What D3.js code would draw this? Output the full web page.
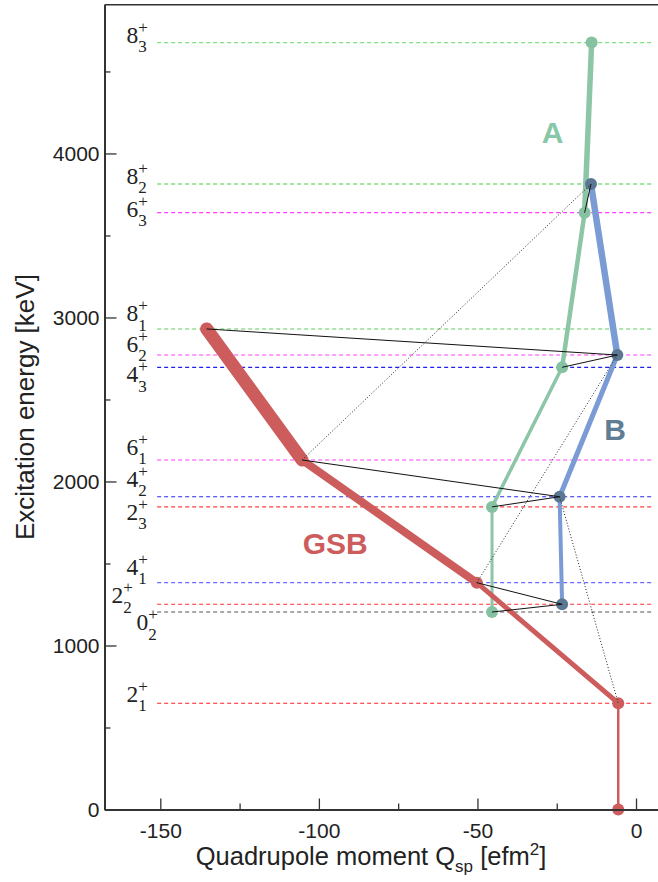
<!DOCTYPE html>
<html><head><meta charset="utf-8">
<script src="https://cdn.jsdelivr.net/npm/d3@7"></script>
<style>body{margin:0;background:#fff} svg{display:block}</style>
</head><body>
<svg id="chart" width="658" height="882"></svg>
<script>
// ---------- data ----------
const levelSpins  = [8, 8, 6, 8, 6, 4, 6, 4, 2, 4, 2, 0, 2];
const levelIdx    = [3, 2, 3, 1, 2, 3, 1, 2, 3, 1, 2, 2, 1];
const levelEnergy = [4676, 3814, 3639, 2930, 2771, 2696, 2131, 1907, 1845, 1383, 1251, 1204, 648];

const gsbEnergy   = [0, 648, 1383, 2131, 2930];
const gsbQ        = [-5.6, -5.6, -50.2, -105.3, -135.4];
const bandAEnergy = [1204, 1845, 2696, 3639, 4676];
const bandAQ      = [-45.4, -45.4, -23.3, -16.2, -14.0];
const bandBEnergy = [1251, 1907, 2771, 3814];
const bandBQ      = [-23.3, -24.1, -5.9, -14.2];

// transitions between states: band letter + index in band
const solidTransitions  = [["g4","b2"],["b2","a2"],["g3","b1"],["b1","a1"],["g2","b0"],["b0","a0"],["b3","a3"]];
const dottedTransitions = [["g3","b3"],["g2","b2"],["b1","g1"]];

const bandNames = ["GSB", "A", "B"];
const xTicks = [-150, -100, -50, 0];
const xMinor = [-125, -75, -25];
const yTicks = [0, 1000, 2000, 3000, 4000];
const yMinor = [500, 1500, 2500, 3500, 4500];

// ---------- styles / layout ----------
const levelColors = ["#7fe07f","#3fcc3f","#ff3cff","#5fcc5f","#ff3cff","#2020ee","#ff3cff","#2a2aee","#ff4040","#6a6aff","#ff3030","#555555","#ff2020"];
const labelDy = [0, 0, 4, -7.5, -3.3, 15, -5, -10, 13, -7.7, -1, 18, -1.6];
const labelX  = [126.5, 126.5, 126.5, 126.5, 126.5, 126.5, 126.5, 126.5, 126.5, 126.5, 111.5, 136.5, 126.5];
const gsbWidths = [2.5, 5, 8, 13];
const aWidths = [3, 3.5, 4.5, 5.5];
const bWidths = [4, 5, 6.5];
const colGSB = "#cd5c5c", colALine = "#8cc6a6", colAPt = "#86c2a2", colBLine = "#7b9bd5", colBPt = "#5b7893";

const svg = d3.select("#chart");
const sans = "'Liberation Sans', Arial, sans-serif";
const serif = "'Liberation Serif', 'Times New Roman', serif";

const x = d3.scaleLinear().domain([-167.6, 7.5]).range([104.5, 659.8]);
const y = d3.scaleLinear().domain([0, 4907]).range([809.5, 4.7]);

// level dashed lines + labels
const lv = svg.append("g");
levelEnergy.forEach((e, i) => {
  lv.append("line")
    .attr("x1", x(-151)).attr("x2", 653)
    .attr("y1", y(e)).attr("y2", y(e))
    .attr("stroke", levelColors[i]).attr("stroke-width", 1.1)
    .attr("stroke-dasharray", "4,3");
});
levelEnergy.forEach((e, i) => {
  const bx = labelX[i], by = y(e) + labelDy[i];
  const t = lv.append("text").attr("x", bx).attr("y", by)
    .attr("font-family", serif).attr("font-size", 23.5).attr("fill", "#222")
    .text(levelSpins[i]);
  const w = t.node().getComputedTextLength();
  lv.append("text").attr("x", bx + w).attr("y", by - 10)
    .attr("font-family", serif).attr("font-size", 17).attr("fill", "#222").text("+");
  lv.append("text").attr("x", bx + w).attr("y", by + 9.5)
    .attr("font-family", serif).attr("font-size", 17).attr("fill", "#222").text(levelIdx[i]);
});

// bands
const bands = {
  g: gsbEnergy.map((e, i) => [gsbQ[i], e]),
  a: bandAEnergy.map((e, i) => [bandAQ[i], e]),
  b: bandBEnergy.map((e, i) => [bandBQ[i], e])
};
function drawBand(pts, widths, col) {
  const g = svg.append("g");
  for (let i = 0; i < pts.length - 1; i++) {
    g.append("line")
      .attr("x1", x(pts[i][0])).attr("y1", y(pts[i][1]))
      .attr("x2", x(pts[i+1][0])).attr("y2", y(pts[i+1][1]))
      .attr("stroke", col).attr("stroke-width", widths[i]).attr("stroke-linecap", "round");
  }
}
drawBand(bands.a, aWidths, colALine);
drawBand(bands.b, bWidths, colBLine);
drawBand(bands.g, gsbWidths, colGSB);

function drawPts(pts, col) {
  svg.append("g").selectAll("circle").data(pts).join("circle")
    .attr("cx", d => x(d[0])).attr("cy", d => y(d[1])).attr("r", 6).attr("fill", col);
}
drawPts(bands.a, colAPt);
drawPts(bands.b, colBPt);
drawPts(bands.g, colGSB);

// transitions
function st(k) { return bands[k[0]][+k.slice(1)]; }
const tr = svg.append("g");
solidTransitions.forEach(([a, b]) => {
  const p = st(a), q = st(b);
  tr.append("line").attr("x1", x(p[0])).attr("y1", y(p[1])).attr("x2", x(q[0])).attr("y2", y(q[1]))
    .attr("stroke", "#111").attr("stroke-width", 1);
});
dottedTransitions.forEach(([a, b]) => {
  const p = st(a), q = st(b);
  tr.append("line").attr("x1", x(p[0])).attr("y1", y(p[1])).attr("x2", x(q[0])).attr("y2", y(q[1]))
    .attr("stroke", "#222").attr("stroke-width", 1).attr("stroke-dasharray", "1,2");
});

// band labels
svg.append("text").attr("x", 302.7).attr("y", 554).attr("font-family", sans).attr("font-weight", "bold")
  .attr("font-size", 30).attr("fill", colGSB).text(bandNames[0]);
svg.append("text").attr("x", 552.5).attr("y", 143).attr("text-anchor", "middle").attr("font-family", sans).attr("font-weight", "bold")
  .attr("font-size", 30).attr("fill", "#88c8a8").text(bandNames[1]);
svg.append("text").attr("x", 615).attr("y", 440).attr("text-anchor", "middle").attr("font-family", sans).attr("font-weight", "bold")
  .attr("font-size", 30).attr("fill", "#5f7d93").text(bandNames[2]);

// axes
const axCol = "#333";
svg.append("g").attr("transform", `translate(${x.range()[0]},0)`)
  .call(d3.axisLeft(y).tickValues(yTicks).tickSizeInner(-12).tickSizeOuter(0).tickPadding(5).tickFormat(d => String(d)));
svg.append("g").attr("transform", `translate(${x.range()[0]},0)`)
  .call(d3.axisLeft(y).tickValues(yMinor).tickSizeInner(-6).tickSizeOuter(0).tickFormat(""));
svg.append("g").attr("transform", `translate(0,${y.range()[0]})`)
  .call(d3.axisBottom(x).tickValues(xTicks).tickSizeInner(-11).tickSizeOuter(0).tickPadding(14).tickFormat(d => String(d)));
svg.append("g").attr("transform", `translate(0,${y.range()[0]})`)
  .call(d3.axisBottom(x).tickValues(xMinor).tickSizeInner(-6).tickSizeOuter(0).tickFormat(""));
svg.selectAll(".domain").attr("stroke", axCol).attr("stroke-width", 2);
svg.selectAll(".tick line").attr("stroke", axCol).attr("stroke-width", 1.3);
svg.selectAll(".tick text").attr("font-family", sans).attr("font-size", 21).attr("fill", "#222");

// top frame line
svg.append("line").attr("x1", x.range()[0]).attr("x2", 658).attr("y1", y.range()[1]).attr("y2", y.range()[1])
  .attr("stroke", axCol).attr("stroke-width", 1.6);

// axis titles
const xt = svg.append("text").attr("x", 371).attr("y", 865)
  .attr("text-anchor", "middle").attr("font-family", sans).attr("font-size", 25.5).attr("fill", "#222");
xt.append("tspan").text("Quadrupole moment Q");
xt.append("tspan").attr("font-size", 17).attr("dy", 7).text("sp");
xt.append("tspan").attr("dy", -7).text(" [efm");
xt.append("tspan").attr("font-size", 17).attr("dy", -10).text("2");
xt.append("tspan").attr("dy", 10).text("]");

svg.append("text").attr("transform", `translate(34,${(y.range()[0] + y.range()[1]) / 2}) rotate(-90)`)
  .attr("text-anchor", "middle").attr("font-family", sans).attr("font-size", 26).attr("fill", "#222")
  .text("Excitation energy [keV]");
</script>
</body></html>
